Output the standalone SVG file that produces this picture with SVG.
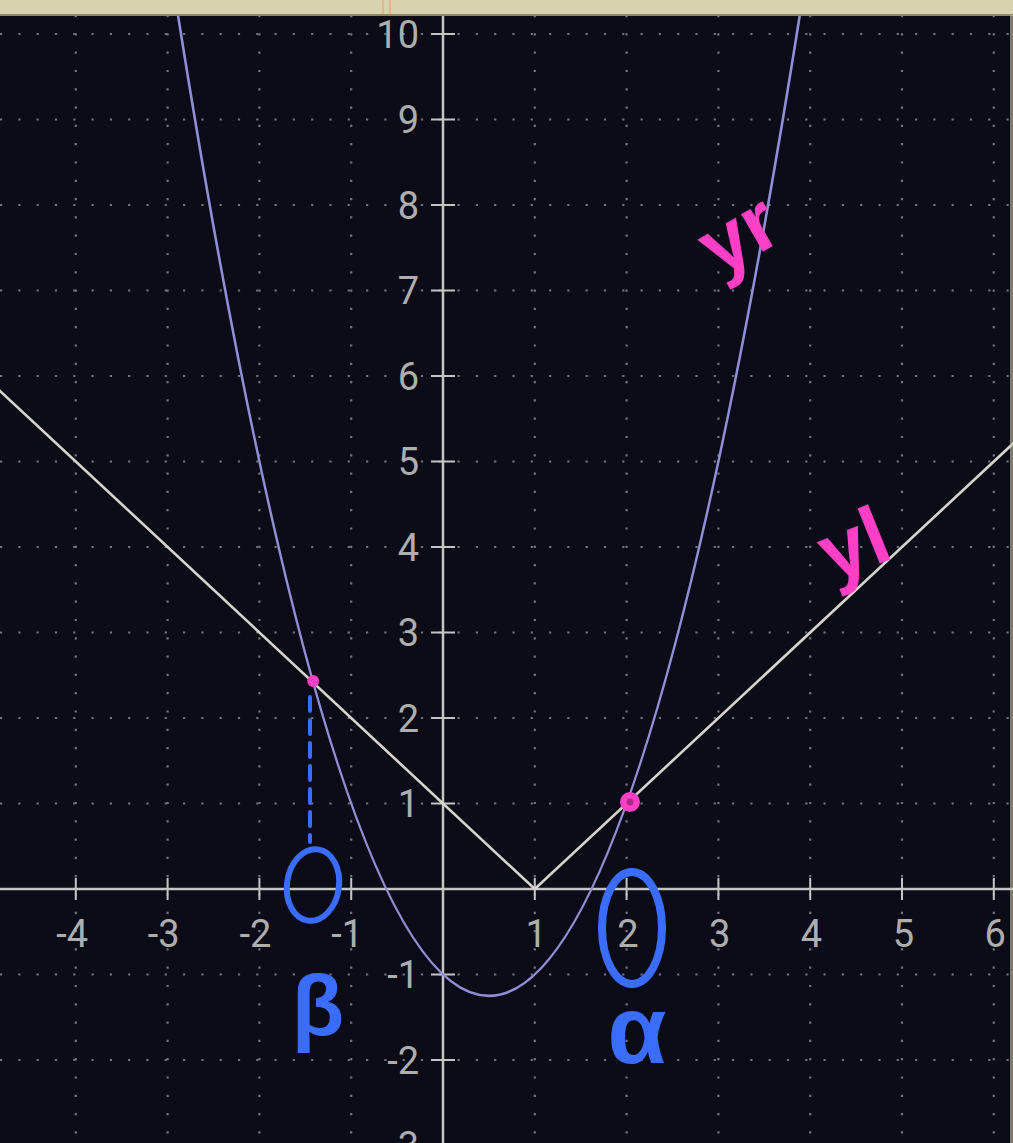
<svg xmlns="http://www.w3.org/2000/svg" width="1013" height="1143" viewBox="0 0 1013 1143">
<style>
.grid{stroke:#74747f;stroke-width:2.2;stroke-dasharray:2.2 16.1;fill:none}
.axis{stroke:#c4c4c4;stroke-width:2.5;fill:none}
.tick{stroke:#c4c4c4;stroke-width:2}
.lbl{font-family:Roboto,"Liberation Sans",sans-serif;font-weight:400;font-size:38px;fill:#aeaeae}
.hand{font-family:"Liberation Sans",sans-serif;font-weight:bold}
.pink{fill:#ff3fc6}
.blue{stroke:#3a6cff;fill:none;stroke-linecap:round}
</style>
<rect width="1013" height="1143" fill="#0b0c17"/>
<g id="grid">
<path class="grid" d="M75.8 15V1143M167.6 15V1143M259.4 15V1143M351.2 15V1143M534.8 15V1143M626.6 15V1143M718.4 15V1143M810.2 15V1143M902 15V1143M993.8 15V1143"/>
<path class="grid" d="M0 34H1013M0 119.5H1013M0 205H1013M0 290.5H1013M0 376H1013M0 461.5H1013M0 547H1013M0 632.5H1013M0 718H1013M0 803.5H1013M0 974.5H1013M0 1060H1013"/>
</g>
<g id="axes">
<path class="axis" d="M443 15V1143M0 889H1013"/>
<path class="tick" d="M431 34H455M431 119.5H455M431 205H455M431 290.5H455M431 376H455M431 461.5H455M431 547H455M431 632.5H455M431 718H455M431 803.5H455M431 974.5H455M431 1060H455"/>
<path class="tick" d="M75.8 878V900M167.6 878V900M259.4 878V900M351.2 878V900M534.8 878V900M626.6 878V900M718.4 878V900M810.2 878V900M902 878V900M993.8 878V900"/>
</g>
<g id="y-labels" class="lbl" text-anchor="end">
<text x="419" y="47.5">10</text>
<text x="419" y="133">9</text>
<text x="419" y="218.5">8</text>
<text x="419" y="304">7</text>
<text x="419" y="389.5">6</text>
<text x="419" y="475">5</text>
<text x="419" y="560.5">4</text>
<text x="419" y="646">3</text>
<text x="419" y="731.5">2</text>
<text x="419" y="817">1</text>
<text x="419" y="988">-1</text>
<text x="419" y="1073.5">-2</text>
<text x="419" y="1159">-3</text>
</g>
<g id="x-labels" class="lbl" text-anchor="end">
<text x="88" y="947">-4</text>
<text x="179.6" y="947">-3</text>
<text x="271.4" y="947">-2</text>
<text x="363.2" y="947">-1</text>
<text x="546.8" y="947">1</text>
<text x="638.6" y="947">2</text>
<text x="730.4" y="947">3</text>
<text x="822.2" y="947">4</text>
<text x="914" y="947">5</text>
<text x="1005.8" y="947">6</text>
</g>
<g id="curves">
<path id="line-yl" d="M-16 376L534.8 889L1085.6 376" fill="none" stroke="#d6d4cc" stroke-width="2.6"/>
<path id="parabola-yr" d="M167.6 -51.5Q488.9 2043.25 810.2 -51.5" fill="none" stroke="#8f8fd6" stroke-width="2.6"/>
</g>
<g id="top-band">
<rect x="0" y="0" width="1013" height="15" fill="#d6d3af"/>
<rect x="0" y="14" width="1013" height="2" fill="#8a876a"/>
<rect x="382" y="0" width="2" height="14" fill="#e8b48e"/>
<rect x="389" y="0" width="2" height="14" fill="#e8b48e"/>
<rect x="1010" y="15" width="3" height="1128" fill="#c9c6a8" opacity="0.6"/>
</g>
<g id="beta-marks">
<path class="blue" stroke-width="4" stroke-dasharray="14 9" d="M310 697V842"/>
<ellipse class="blue" stroke-width="6" cx="313" cy="885" rx="26" ry="36" transform="rotate(8 313 885)"/>
<text class="hand" x="318" y="1035" font-size="86" fill="#3a6cff" text-anchor="middle">β</text>
</g>
<g id="alpha-marks">
<ellipse class="blue" stroke-width="8" cx="632" cy="928" rx="30" ry="56"/>
<text class="hand" x="637" y="1063" font-size="96" fill="#3a6cff" text-anchor="middle">α</text>
</g>
<g id="points">
<circle cx="313.2" cy="681" r="6" class="pink"/>
<circle cx="630" cy="802" r="10" fill="#ff3fc6"/>
<circle cx="630" cy="802" r="3.5" fill="#b0288a"/>
</g>
<g id="labels-hand" class="hand pink">
<text transform="translate(752 258) rotate(-30)" font-size="82" text-anchor="middle">yr</text>
<text transform="translate(864 570) rotate(-22)" font-size="82" text-anchor="middle">yl</text>
</g>
</svg>
